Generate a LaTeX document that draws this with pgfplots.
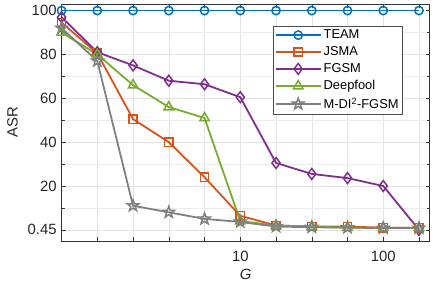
\documentclass[border={4bp 0bp 5bp 2bp}]{standalone}
\usepackage{pgfplots}
\pgfplotsset{compat=1.18}
\usepackage{fontspec}
\setmainfont{Liberation Sans}
\definecolor{cTEAM}{rgb}{0,0.447,0.741}
\definecolor{cJSMA}{rgb}{0.850,0.325,0.098}
\definecolor{cFGSM}{rgb}{0.494,0.184,0.556}
\definecolor{cDF}{rgb}{0.466,0.674,0.188}
\definecolor{cMDI}{rgb}{0.5,0.5,0.5}
\pgfdeclareplotmark{pentagram}{%
  \pgfpathmoveto{\pgfpointpolar{90}{\pgfplotmarksize}}%
  \pgfpathlineto{\pgfpointpolar{126}{0.4\pgfplotmarksize}}%
  \pgfpathlineto{\pgfpointpolar{162}{\pgfplotmarksize}}%
  \pgfpathlineto{\pgfpointpolar{198}{0.4\pgfplotmarksize}}%
  \pgfpathlineto{\pgfpointpolar{234}{\pgfplotmarksize}}%
  \pgfpathlineto{\pgfpointpolar{270}{0.4\pgfplotmarksize}}%
  \pgfpathlineto{\pgfpointpolar{306}{\pgfplotmarksize}}%
  \pgfpathlineto{\pgfpointpolar{342}{0.4\pgfplotmarksize}}%
  \pgfpathlineto{\pgfpointpolar{18}{\pgfplotmarksize}}%
  \pgfpathlineto{\pgfpointpolar{54}{0.4\pgfplotmarksize}}%
  \pgfpathclose
  \pgfusepathqstroke
}
\begin{document}
\begin{tikzpicture}
\begin{axis}[
  scale only axis,
  width=370bp, height=238bp,
  xmin=0, xmax=10.3,
  ymin=-5, ymax=103,
  xtick={0,1,2,3,4,5,6,7,8,9,10},
  xticklabels={,,,,,10,,,,100,},
  ytick={0,20,40,60,80,100},
  yticklabels={0.45,20,40,60,80,100},
  minor ytick={10,30,50,70,90},
  grid=both,
  major grid style={gray!22, line width=0.5pt},
  minor grid style={gray!14, line width=0.4pt},
  tick align=inside,
  major tick length=4pt,
  minor tick length=3pt,
  axis line style={black!80, line width=0.6pt},
  tick style={black!80, line width=0.5pt},
  every tick label/.append style={font=\fontsize{15}{17}\selectfont, text=black!85},
  yticklabel style={xshift=-1.5bp},
  xticklabel style={yshift=-7bp},
  /pgf/number format/assume math mode=true,
  xlabel={\textit{G}},
  ylabel={ASR},
  label style={font=\fontsize{15}{17}\selectfont, text=black!85},
  xlabel style={yshift=-1bp},
  ylabel style={yshift=3bp},
  legend style={at={(0.573,0.908)}, anchor=north west, font=\fontsize{13}{15}\selectfont, draw=black!70, line width=0.5pt, row sep=2.5pt, inner sep=2pt, cells={anchor=west}},
  legend image code/.code={\draw[mark repeat=2,mark phase=2] plot coordinates {(0cm,0cm) (0.8cm,0cm) (1.6cm,0cm)};},
  every axis plot/.append style={line width=1.8pt, mark size=4.2pt, mark options={solid, fill=none, line width=1.5pt}},
]
\addplot[color=cTEAM, mark=o, line width=1.8pt] coordinates {(0,100)(1,100)(2,100)(3,100)(4,100)(5,100)(6,100)(7,100)(8,100)(9,100)(10,100)};
\addlegendentry{TEAM}
\addplot[color=cJSMA, mark=square, line width=1.8pt] coordinates {(0,94.5)(1,80.5)(2,50.5)(3,40)(4,24)(5,6.4)(6,2)(7,1.5)(8,1.5)(9,1)(10,1)};
\addlegendentry{JSMA}
\addplot[color=cFGSM, mark=diamond, mark size=5.5pt, line width=1.8pt] coordinates {(0,97)(1,81)(2,75)(3,68)(4,66.4)(5,60.5)(6,30.5)(7,25.5)(8,23.6)(9,20)(10,0)};
\addlegendentry{FGSM}
\addplot[color=cDF, mark=triangle, mark size=5.5pt, line width=1.8pt] coordinates {(0,90)(1,80)(2,66)(3,56)(4,51)(5,4)(6,2)(7,1.5)(8,1)(9,1)(10,1)};
\addlegendentry{Deepfool}
\addplot[color=cMDI, mark=pentagram, mark size=6pt, line width=1.8pt] coordinates {(0,92)(1,77)(2,11)(3,8)(4,5)(5,3.6)(6,1.5)(7,1.2)(8,1)(9,0.8)(10,0.8)};
\addlegendentry{M-DI\textsuperscript{2}-FGSM}
\end{axis}
\end{tikzpicture}
\end{document}
